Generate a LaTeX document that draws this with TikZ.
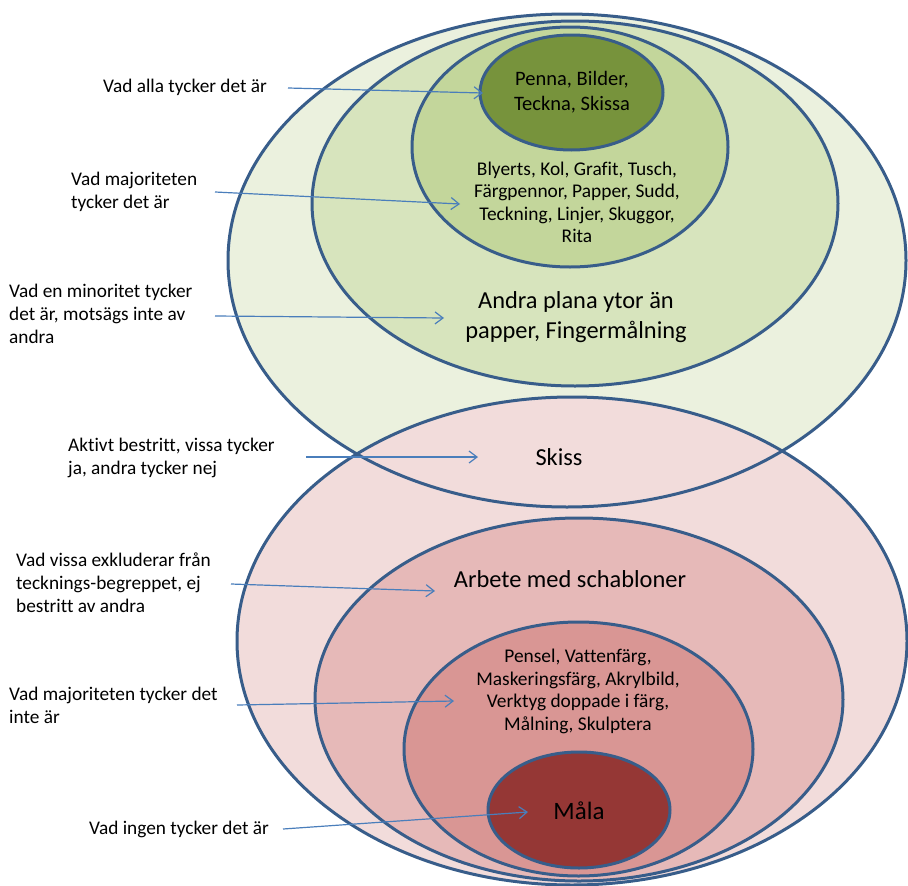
\documentclass[tikz,border=0pt]{standalone}
\usepackage{fontspec}
\setmainfont{Carlito}[Ligatures=NoCommon]
\usetikzlibrary{arrows.meta}
\definecolor{gA}{HTML}{EBF1DE}
\definecolor{gB}{HTML}{D7E4BD}
\definecolor{gC}{HTML}{C3D69B}
\definecolor{gD}{HTML}{77933C}
\definecolor{pA}{HTML}{F2DCDB}
\definecolor{pB}{HTML}{E6B9B8}
\definecolor{pC}{HTML}{D99694}
\definecolor{pD}{HTML}{953735}
\definecolor{ringblue}{HTML}{385D8A}
\definecolor{arrowblue}{HTML}{4A7EBB}
\begin{document}
\begin{tikzpicture}[x=1pt,y=-1pt,
  ring/.style={draw=ringblue, line width=3pt},
  lab/.style={font=\fontsize{19.3}{23}\selectfont, align=left, anchor=west, inner sep=0pt},
  small/.style={font=\fontsize{19.4}{22.5}\selectfont, align=center, inner sep=0pt},
  big/.style={font=\fontsize{24.4}{30}\selectfont, align=center, inner sep=0pt},
  pointer/.style={draw=arrowblue, line width=1.2pt, -{Straight Barb[length=8pt,width=12pt,line width=1.2pt]}}
]
\useasboundingbox (0,0) rectangle (908,886);
% outer fills
\fill[gA] (567,260.5) ellipse [x radius=339, y radius=246.5];
\fill[pA] (572,641) ellipse [x radius=335, y radius=244];
\draw[ring] (567,260.5) ellipse [x radius=339, y radius=246.5];
\draw[ring] (572,641) ellipse [x radius=335, y radius=244];
% green rings
\draw[ring, fill=gB] (575,203.5) ellipse [x radius=263, y radius=182.5];
\draw[ring, fill=gC] (570,147) ellipse [x radius=158, y radius=120];
\draw[ring, fill=gD] (571.5,92.5) ellipse [x radius=91.5, y radius=57.5];
% pink rings
\draw[ring, fill=pB] (579,699.5) ellipse [x radius=264, y radius=181.5];
\draw[ring, fill=pC] (578.5,749) ellipse [x radius=174.5, y radius=127];
\draw[ring, fill=pD] (579,810) ellipse [x radius=91, y radius=58];
% inner texts
\node[small, font=\fontsize{20.5}{24.5}\selectfont] (t1) at (572,92) {Penna, Bilder,\\Teckna, Skissa};
\node[small] (t2) at (577,202.5) {Blyerts, Kol, Grafit, Tusch,\\Färgpennor, Papper, Sudd,\\Teckning, Linjer, Skuggor,\\Rita};
\node[big] (t3) at (576,317) {Andra plana ytor än\\papper, Fingermålning};
\node[big] (t4) at (559,457) {Skiss};
\node[big] (t5) at (570,579) {Arbete med schabloner};
\node[small] (t6) at (578,691.5) {Pensel, Vattenfärg,\\Maskeringsfärg, Akrylbild,\\Verktyg doppade i färg,\\Målning, Skulptera};
\node[big, font=\fontsize{25}{30}\selectfont] (t7) at (579,811) {Måla};
% left labels
\node[lab] (l1) at (103,87) {Vad alla tycker det är};
\node[lab] (l2) at (71,192) {Vad majoriteten\\tycker det är};
\node[lab] (l3) at (9,314) {Vad en minoritet tycker\\det är, motsägs inte av\\andra};
\node[lab] (l4) at (68,457.5) {Aktivt bestritt, vissa tycker\\ja, andra tycker nej};
\node[lab] (l5) at (16,583) {Vad vissa exkluderar från\\tecknings-begreppet, ej\\bestritt av andra};
\node[lab] (l6) at (9,705.5) {Vad majoriteten tycker det\\inte är};
\node[lab] (l7) at (89,829) {Vad ingen tycker det är};
% arrow coordinates
\coordinate (s1) at (288,88);  \coordinate (e1) at (483,93);
\coordinate (s2) at (215,192); \coordinate (e2) at (460,204);
\coordinate (s3) at (215,316); \coordinate (e3) at (444,318);
\coordinate (s4) at (306,457); \coordinate (e4) at (478,457);
\coordinate (s5) at (231,584); \coordinate (e5) at (435,591);
\coordinate (s6) at (237,705); \coordinate (e6) at (454,701);
\coordinate (s7) at (283,829); \coordinate (e7) at (528,812);
\foreach \i in {1,...,7} {\draw[pointer] (s\i) -- (e\i);}
\end{tikzpicture}
\end{document}
